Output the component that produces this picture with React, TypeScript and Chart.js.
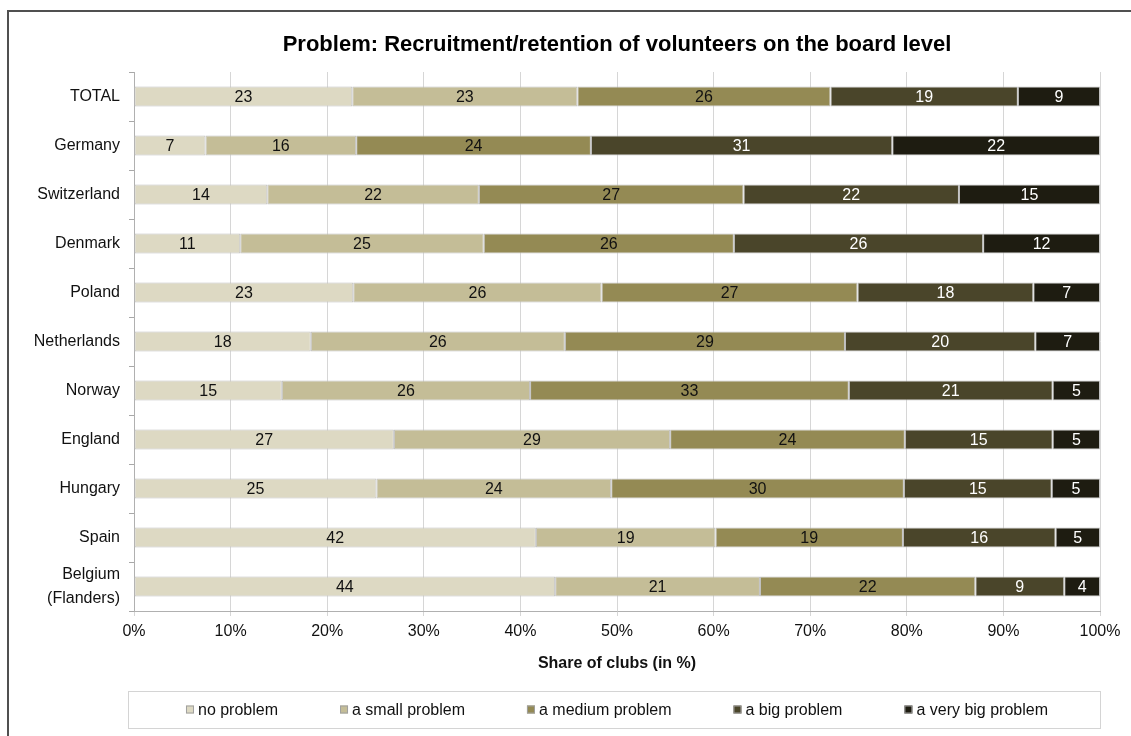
import { useEffect, useRef } from "react";
import { Chart, registerables } from "chart.js";

Chart.register(...registerables);

const FONT = "'Liberation Sans', Arial, sans-serif";

const chartTitle = "Problem: Recruitment/retention of volunteers on the board level";
const xAxisTitle = "Share of clubs (in %)";

const categories: (string | string[])[] = [
  "TOTAL",
  "Germany",
  "Switzerland",
  "Denmark",
  "Poland",
  "Netherlands",
  "Norway",
  "England",
  "Hungary",
  "Spain",
  ["Belgium", "(Flanders)"],
];

const seriesNames = [
  "no problem",
  "a small problem",
  "a medium problem",
  "a big problem",
  "a very big problem",
];

const seriesColors = ["#DDD9C3", "#C4BD97", "#948A54", "#4A452A", "#1E1C11"];
const labelColors = ["#111111", "#111111", "#111111", "#FFFFFF", "#FFFFFF"];

const noProblem = [22.6, 7.4, 13.8, 11.0, 22.7, 18.3, 15.3, 26.9, 25.1, 41.6, 43.6];
const smallProblem = [23.3, 15.6, 21.9, 25.2, 25.7, 26.3, 25.7, 28.6, 24.3, 18.6, 21.2];
const mediumProblem = [26.2, 24.3, 27.4, 25.9, 26.5, 29.0, 33.0, 24.3, 30.3, 19.4, 22.3];
const bigProblem = [19.4, 31.2, 22.3, 25.8, 18.2, 19.7, 21.1, 15.3, 15.3, 15.8, 9.2];
const veryBigProblem = [8.5, 21.5, 14.6, 12.1, 6.9, 6.7, 4.9, 4.9, 5.0, 4.6, 3.7];

const xTickValues = [0, 10, 20, 30, 40, 50, 60, 70, 80, 90, 100];

const frame = {
  id: "frame",
  beforeDraw(chart: any) {
    const { ctx, width, height } = chart;
    ctx.save();
    ctx.fillStyle = "#ffffff";
    ctx.fillRect(0, 0, width, height);
    ctx.strokeStyle = "#505050";
    ctx.lineWidth = 2;
    ctx.beginPath();
    ctx.moveTo(8, height);
    ctx.lineTo(8, 11);
    ctx.lineTo(width, 11);
    ctx.stroke();
    ctx.restore();
  },
};

const valueLabels = {
  id: "valueLabels",
  afterDatasetsDraw(chart: any) {
    const { ctx } = chart;
    ctx.save();
    ctx.font = `16px ${FONT}`;
    ctx.textAlign = "center";
    ctx.textBaseline = "middle";
    chart.data.datasets.forEach((ds: any, di: number) => {
      const meta = chart.getDatasetMeta(di);
      meta.data.forEach((el: any, i: number) => {
        const v = ds.data[i];
        const { x, base, y } = el.getProps(["x", "base", "y"], true);
        ctx.fillStyle = labelColors[di];
        ctx.fillText(String(Math.round(v)), (x + base) / 2, y + 1);
      });
    });
    ctx.restore();
  },
};

const boxedLegend = {
  id: "boxedLegend",
  afterDraw(chart: any) {
    const { ctx, chartArea, height } = chart;
    ctx.save();
    ctx.font = `16px ${FONT}`;
    const marker = 8;
    const textGap = 4;
    const gap = 62;
    const items = chart.data.datasets.map((ds: any) => ({
      label: ds.label as string,
      color: ds.backgroundColor as string,
      w: marker + textGap + ctx.measureText(ds.label).width,
    }));
    const total = items.reduce((s: number, it: any) => s + it.w, 0) + gap * (items.length - 1);
    const boxLeft = chartArea.left - 6;
    const boxRight = chartArea.right;
    const boxTop = height - 45;
    const boxBottom = height - 8;
    ctx.strokeStyle = "#d4d4d4";
    ctx.lineWidth = 1;
    ctx.strokeRect(boxLeft + 0.5, boxTop + 0.5, boxRight - boxLeft, boxBottom - boxTop);
    const cy = (boxTop + boxBottom) / 2;
    let x = (chartArea.left + chartArea.right) / 2 - total / 2;
    ctx.textBaseline = "middle";
    ctx.textAlign = "left";
    items.forEach((it: any) => {
      ctx.fillStyle = it.color;
      ctx.fillRect(x, cy - marker / 2, marker, marker);
      ctx.strokeStyle = "#a0a0a0";
      ctx.strokeRect(x + 0.5, cy - marker / 2 + 0.5, marker - 1, marker - 1);
      ctx.fillStyle = "#111111";
      ctx.fillText(it.label, x + marker + textGap, cy + 1);
      x += it.w + gap;
    });
    ctx.restore();
  },
};

export default function App() {
  const canvasRef = useRef<HTMLCanvasElement | null>(null);

  useEffect(() => {
    if (!canvasRef.current) return;
    const seriesValues = [noProblem, smallProblem, mediumProblem, bigProblem, veryBigProblem];
    const chart = new Chart(canvasRef.current, {
      type: "bar",
      data: {
        labels: categories as any,
        datasets: seriesNames.map((name, i) => ({
          label: name,
          data: seriesValues[i],
          backgroundColor: seriesColors[i],
          borderColor: "#c0c0c0",
          borderWidth: 1,
          borderSkipped: false,
          categoryPercentage: 0.45,
          barPercentage: 0.9,
        })),
      },
      options: {
        indexAxis: "y",
        responsive: false,
        animation: false,
        devicePixelRatio: 1,
        layout: { padding: { left: 0, right: 31, top: 0, bottom: 60 } },
        plugins: {
          legend: { display: false },
          tooltip: { enabled: false },
          title: {
            display: true,
            fullSize: false,
            text: chartTitle,
            color: "#000000",
            font: { family: FONT, size: 22, weight: "bold", lineHeight: 1.2 },
            padding: { top: 32, bottom: 13.6 },
          },
        },
        scales: {
          x: {
            type: "linear",
            stacked: true,
            min: 0,
            max: 100,
            afterBuildTicks: (scale: any) => {
              scale.ticks = xTickValues.map((v) => ({ value: v }));
            },
            ticks: {
              color: "#111111",
              font: { family: FONT, size: 16 },
              padding: 6,
              callback: (v: any) => `${v}%`,
            },
            grid: { color: "#d6d6d6", lineWidth: 1, tickLength: 5, drawTicks: true },
            border: { display: true, color: "#b0b0b0" },
            title: {
              display: true,
              text: xAxisTitle,
              color: "#111111",
              font: { family: FONT, size: 16, weight: "bold", lineHeight: 1.2 },
              padding: { top: 7.2, bottom: 2.4 },
            },
          },
          y: {
            type: "category",
            stacked: true,
            afterFit: (scale: any) => {
              scale.width = 134;
            },
            ticks: {
              color: "#111111",
              font: { family: FONT, size: 16, lineHeight: 1.45 },
              padding: 9,
              autoSkip: false,
            },
            grid: {
              offset: true,
              drawOnChartArea: false,
              drawTicks: true,
              tickLength: 5,
              color: "#a8a8a8",
            },
            border: { display: true, color: "#b0b0b0" },
          },
        },
      },
      plugins: [frame, valueLabels, boxedLegend],
    } as any);
    return () => chart.destroy();
  }, []);

  return (
    <div style={{ position: "absolute", left: 0, top: 0, width: 1131, height: 736 }}>
      <canvas ref={canvasRef} width={1131} height={736} style={{ display: "block" }} />
    </div>
  );
}
